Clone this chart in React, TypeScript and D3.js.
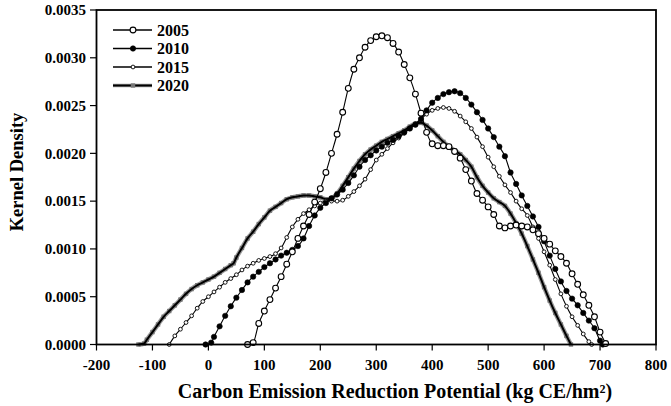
import React from "react";
import * as d3 from "d3";

const W = 671;
const H = 406;

const xTicks = [-200, -100, 0, 100, 200, 300, 400, 500, 600, 700, 800];
const yTicks = [0, 0.0005, 0.001, 0.0015, 0.002, 0.0025, 0.003, 0.0035];
const seriesNames = ["2005", "2010", "2015", "2020"];

const x2005 = [70, 80, 90, 100, 110, 120, 130, 140, 150, 160, 170, 180, 190, 200, 210, 220, 230, 240, 250, 260, 270, 280, 290, 300, 310, 320, 330, 340, 350, 360, 370, 380, 390, 400, 410, 420, 430, 440, 450, 460, 470, 480, 490, 500, 510, 520, 530, 540, 550, 560, 570, 580, 590, 600, 610, 620, 630, 640, 650, 660, 670, 680, 690, 700, 710];
const kd2005 = [0, 0.00002, 0.00022, 0.00035, 0.00047, 0.00059, 0.00071, 0.00084, 0.00097, 0.00111, 0.00124, 0.00136, 0.00149, 0.00163, 0.0018, 0.002, 0.0022, 0.00243, 0.00268, 0.00288, 0.003, 0.00311, 0.00318, 0.00322, 0.00323, 0.00321, 0.00315, 0.00306, 0.00293, 0.00279, 0.00262, 0.00242, 0.00222, 0.0021, 0.00208, 0.00208, 0.00207, 0.00202, 0.00195, 0.00183, 0.00171, 0.00158, 0.00151, 0.00144, 0.00136, 0.00124, 0.00122, 0.00124, 0.00125, 0.00124, 0.00123, 0.0012, 0.00116, 0.00111, 0.00105, 0.00098, 0.00092, 0.00085, 0.00074, 0.00063, 0.00052, 0.00041, 0.00029, 0.00013, 0.00001];

const x2010 = [-5, 5, 10, 20, 30, 40, 50, 60, 70, 80, 90, 100, 110, 120, 130, 140, 150, 160, 170, 180, 190, 200, 210, 220, 230, 240, 250, 260, 270, 280, 290, 300, 310, 320, 330, 340, 350, 360, 370, 380, 390, 400, 410, 420, 430, 440, 450, 460, 470, 480, 490, 500, 510, 520, 530, 540, 550, 560, 570, 580, 590, 600, 610, 620, 630, 640, 650, 660, 670, 680, 690, 700, 705];
const kd2010 = [0, 0.00002, 0.00008, 0.00019, 0.0003, 0.0004, 0.00049, 0.00057, 0.00065, 0.00071, 0.00076, 0.00081, 0.00085, 0.00089, 0.00093, 0.00096, 0.00099, 0.00103, 0.00111, 0.00124, 0.00135, 0.00143, 0.00148, 0.00153, 0.00157, 0.00162, 0.00169, 0.00177, 0.00186, 0.00193, 0.00198, 0.00203, 0.00207, 0.00211, 0.00214, 0.00218, 0.00222, 0.00226, 0.0023, 0.00236, 0.00245, 0.00253, 0.00258, 0.00262, 0.00264, 0.00265, 0.00263, 0.00258, 0.00251, 0.00243, 0.00235, 0.00226, 0.00217, 0.00207, 0.00197, 0.0018, 0.00168, 0.00156, 0.00145, 0.00134, 0.00123, 0.00108, 0.00093, 0.00079, 0.00066, 0.00056, 0.00048, 0.00041, 0.00033, 0.00025, 0.00017, 0.00004, 0];

const x2015 = [-70, -60, -50, -40, -30, -20, -10, 0, 10, 20, 30, 40, 50, 60, 70, 80, 90, 100, 110, 120, 130, 140, 150, 160, 170, 180, 190, 200, 210, 220, 230, 240, 250, 260, 270, 280, 290, 300, 310, 320, 330, 340, 350, 360, 370, 380, 390, 400, 410, 420, 430, 440, 450, 460, 470, 480, 490, 500, 510, 520, 530, 540, 550, 560, 570, 580, 590, 600, 610, 620, 630, 640, 650, 660, 670, 680, 685];
const kd2015 = [0, 0.00009, 0.00016, 0.00023, 0.0003, 0.00038, 0.00045, 0.0005, 0.00055, 0.0006, 0.00065, 0.00069, 0.00073, 0.00078, 0.00082, 0.00085, 0.00088, 0.0009, 0.00092, 0.00095, 0.00101, 0.00112, 0.00123, 0.00131, 0.00137, 0.00141, 0.00145, 0.00148, 0.0015, 0.0015, 0.0015, 0.00151, 0.00155, 0.0016, 0.00166, 0.00173, 0.00183, 0.00193, 0.00199, 0.00205, 0.00211, 0.00216, 0.00221, 0.00226, 0.00231, 0.00236, 0.00241, 0.00245, 0.00247, 0.00248, 0.00247, 0.00244, 0.00239, 0.00233, 0.00226, 0.00217, 0.00207, 0.00196, 0.00186, 0.00176, 0.00167, 0.00159, 0.0015, 0.00142, 0.00135, 0.00123, 0.00111, 0.00097, 0.00083, 0.00068, 0.00053, 0.0004, 0.00029, 0.0002, 0.00011, 0.00003, 0];

const x2020 = [-125, -115, -110, -100, -90, -80, -70, -60, -50, -40, -30, -20, -10, 0, 10, 20, 30, 40, 45, 50, 60, 70, 80, 90, 100, 110, 120, 130, 140, 150, 160, 170, 180, 190, 200, 210, 220, 230, 240, 250, 260, 270, 280, 290, 300, 310, 320, 330, 340, 350, 360, 370, 380, 390, 400, 410, 420, 430, 440, 450, 460, 470, 480, 490, 500, 510, 520, 530, 540, 550, 560, 570, 580, 590, 600, 610, 620, 630, 640, 648];
const kd2020 = [0, 0.00001, 0.00005, 0.00013, 0.00021, 0.00029, 0.00035, 0.00041, 0.00047, 0.00053, 0.00058, 0.00062, 0.00065, 0.00068, 0.00071, 0.00075, 0.00079, 0.00083, 0.00085, 0.00091, 0.00101, 0.00111, 0.00118, 0.00126, 0.00133, 0.0014, 0.00144, 0.00148, 0.00152, 0.00154, 0.00155, 0.00156, 0.00156, 0.00155, 0.00154, 0.00152, 0.00153, 0.00158, 0.00166, 0.00175, 0.00184, 0.00192, 0.00199, 0.00204, 0.00208, 0.00212, 0.00215, 0.00218, 0.00221, 0.00224, 0.00228, 0.00231, 0.00232, 0.00229, 0.00224, 0.00218, 0.00212, 0.00207, 0.00203, 0.00199, 0.00193, 0.00186, 0.00175, 0.00166, 0.00159, 0.00153, 0.00149, 0.00145, 0.00137, 0.00127, 0.00116, 0.00103, 0.00089, 0.00075, 0.0006, 0.00046, 0.00033, 0.00021, 0.00009, 0];

const xsList = [x2005, x2010, x2015, x2020];
const ysList = [kd2005, kd2010, kd2015, kd2020];

const FONT = "'Liberation Serif', 'Times New Roman', serif";

const left = 96.5;
const right = 656;
const top = 10;
const bottom = 344.5;

const xScale = d3.scaleLinear().domain([-200, 800]).range([left, right]);
const yScale = d3.scaleLinear().domain([0, 0.0035]).range([bottom, top]);

function Marker({ kind, cx, cy }: { kind: number; cx: number; cy: number }) {
  if (kind === 0) return <circle cx={cx} cy={cy} r={2.9} fill="#fff" stroke="#000" strokeWidth={1.1} />;
  if (kind === 1) return <circle cx={cx} cy={cy} r={2.7} fill="#000" stroke="#000" strokeWidth={0.6} />;
  if (kind === 2) return <circle cx={cx} cy={cy} r={1.9} fill="#fff" stroke="#000" strokeWidth={0.9} />;
  return <rect x={cx - 2.2} y={cy - 2.2} width={4.4} height={4.4} fill="#777" />;
}

export default function App() {
  const line = d3
    .line<[number, number]>()
    .x((d) => xScale(d[0]))
    .y((d) => yScale(d[1]))
    .curve(d3.curveMonotoneX);

  const series = xsList.map((xs, i) => xs.map((x, j) => [x, ysList[i][j]] as [number, number]));
  const order = [3, 2, 1, 0];

  return (
    <svg width={W} height={H} style={{ position: "absolute", left: 0, top: 0, background: "#fff" }} fontFamily={FONT}>
      <rect x={0} y={0} width={W} height={H} fill="#fff" />
      {order.map((i) => (
        <g key={i}>
          {i === 3 && <path d={line(series[i]) || ""} fill="none" stroke="#999" strokeWidth={4.5} />}
          {series[i].map((d, j) => (
            i === 3 ? <Marker key={j} kind={i} cx={xScale(d[0])} cy={yScale(d[1])} /> : null
          ))}
          <path d={line(series[i]) || ""} fill="none" stroke="#000" strokeWidth={i === 3 ? 2 : 1.1} />
          {series[i].map((d, j) => (
            i !== 3 ? <Marker key={j} kind={i} cx={xScale(d[0])} cy={yScale(d[1])} /> : null
          ))}
        </g>
      ))}
      <rect x={left} y={top} width={right - left} height={bottom - top} fill="none" stroke="#000" strokeWidth={1.8} />
      {xTicks.map((t) => (
        <g key={t}>
          <line x1={xScale(t)} x2={xScale(t)} y1={bottom} y2={bottom + 6} stroke="#000" strokeWidth={1.2} />
          <text x={xScale(t)} y={370} textAnchor="middle" fontSize={15} fontWeight="bold">
            {t}
          </text>
        </g>
      ))}
      {yTicks.map((t) => (
        <g key={t}>
          <line x1={left - 6.5} x2={left} y1={yScale(t)} y2={yScale(t)} stroke="#000" strokeWidth={1.2} />
          <text x={86} y={yScale(t)} dy="0.35em" textAnchor="end" fontSize={15} fontWeight="bold">
            {d3.format(".4f")(t)}
          </text>
        </g>
      ))}
      <text x={395} y={398} textAnchor="middle" fontSize={20} fontWeight="bold">
        Carbon Emission Reduction Potential (kg CE/hm²)
      </text>
      <text transform="translate(22.5,172) rotate(-90)" textAnchor="middle" fontSize={18.5} fontWeight="bold">
        Kernel Density
      </text>
      {seriesNames.map((name, i) => {
        const cy = 30 + i * 18.5;
        return (
          <g key={name}>
            {i === 3 && <line x1={113} x2={152} y1={cy} y2={cy} stroke="#999" strokeWidth={3.5} />}
            <line x1={113} x2={152} y1={cy} y2={cy} stroke="#000" strokeWidth={i === 3 ? 2 : 1.6} />
            <Marker kind={i} cx={133} cy={cy} />
            <text x={157} y={cy} dy="0.36em" fontSize={16} fontWeight="bold">
              {name}
            </text>
          </g>
        );
      })}
    </svg>
  );
}
